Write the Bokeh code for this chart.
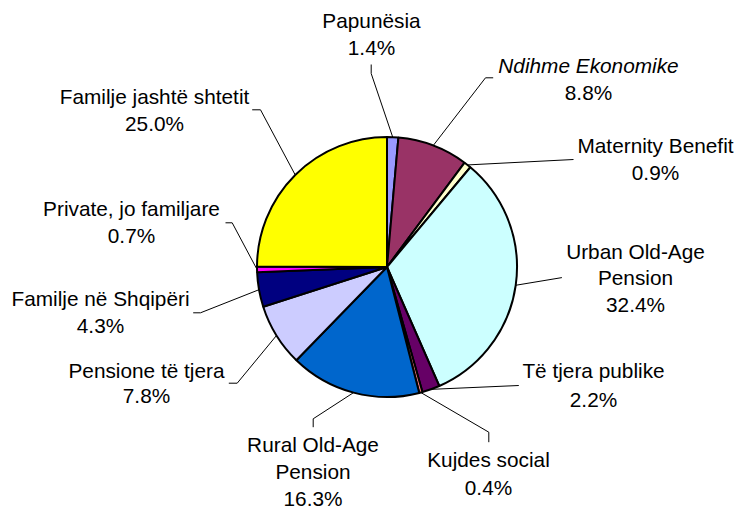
import math
from bokeh.plotting import figure
from bokeh.models import Range1d
from bokeh.embed import file_html
from bokeh.resources import INLINE
from bokeh.core.properties import value

# ---- data ----
categories = ["Papunësia", "Ndihme Ekonomike", "Maternity Benefit",
              "Urban Old-Age Pension", "Të tjera publike", "Kujdes social",
              "Rural Old-Age Pension", "Pensione të tjera", "Familje në Shqipëri",
              "Private, jo familjare", "Familje jashtë shtetit"]
shares = [1.4, 8.8, 0.9, 32.4, 2.2, 0.4, 16.3, 7.8, 4.3, 0.7, 25.0]

# ---- styles ----
colors = ["#9999FF", "#993366", "#FFFFCC", "#CCFFFF", "#660066", "#FF8080",
          "#0066CC", "#CCCCFF", "#000080", "#FF00FF", "#FFFF00"]
italic = {"Ndihme Ekonomike"}
wrap = {"Urban Old-Age Pension": ["Urban Old-Age", "Pension"],
        "Rural Old-Age Pension": ["Rural Old-Age", "Pension"]}

# ---- layout (page pixel coordinates) ----
W, H = 736, 510
CX, CY, R = 386.5, 266.5, 130
# label centre x, y of each text line, leader end point, leader elbow
layout = [
    (371, [19.5, 46.5], (370.7, 64), (370.7, 73)),
    (588, [64.5, 91.5], (492.7, 77.3), (485, 77.3)),
    (655, [144.5, 172], (573, 159), None),
    (635, [250.5, 277, 304], (561.4, 277.1), None),
    (593, [370, 398.5], (518.3, 385), None),
    (488, [459.2, 487.2], (488.3, 441.7), (488.3, 431.7)),
    (312.5, [444, 470.8, 497.5], (312.7, 426.7), (312.7, 418.3)),
    (146, [370, 394.7], (228.3, 382.7), (236.7, 382.7)),
    (100, [298, 325.3], (192.7, 312.3), (200, 312.3)),
    (131, [208, 234.7], (225, 222.3), (231.7, 222.3)),
    (154, [96, 122.5], (251.7, 109.3), (260, 109.3)),
]
FONT = value("Liberation Sans")
FSIZE = "20.8px"


def sy(y):
    return H - y


p = figure(width=W, height=H, output_backend="svg", toolbar_location=None,
           x_range=Range1d(0, W), y_range=Range1d(0, H),
           x_axis_location=None, y_axis_location=None, min_border=0)
p.grid.visible = False
p.outline_line_color = None
p.background_fill_color = "white"
p.border_fill_color = "white"

total = sum(shares)
cum = 0.0
starts, ends, mids = [], [], []
for v in shares:
    a0 = 360.0 * cum / total
    cum += v
    a1 = 360.0 * cum / total
    # clockwise from 12 o'clock -> math angles
    starts.append(math.radians(90 - a1))
    ends.append(math.radians(90 - a0))
    mids.append(math.radians((a0 + a1) / 2))

p.wedge(x=[CX] * len(shares), y=[sy(CY)] * len(shares), radius=R,
        start_angle=starts, end_angle=ends, fill_color=colors,
        line_color="black", line_width=2)

xs, ys = [], []
for i, name in enumerate(categories):
    lx, lys, end, elbow = layout[i]
    m = mids[i]
    ax = CX + R * math.sin(m)
    ay = CY - R * math.cos(m)
    pts = [(ax, ay)]
    if elbow is not None:
        pts.append(elbow)
    pts.append(end)
    xs.append([q[0] for q in pts])
    ys.append([sy(q[1]) for q in pts])

    lines = wrap.get(name, [name]) + [f"{shares[i]:.1f}%"]
    for j, (t, y) in enumerate(zip(lines, lys)):
        style = "italic" if (name in italic and j < len(lines) - 1) else "normal"
        p.text(x=[lx], y=[sy(y)], text=[t], text_font=FONT, text_font_size=FSIZE,
               text_font_style=style, text_color="black",
               text_align="center", text_baseline="middle")

p.multi_line(xs=xs, ys=ys, line_color="black", line_width=1)

open("out.html", "w").write(file_html(p, INLINE))
